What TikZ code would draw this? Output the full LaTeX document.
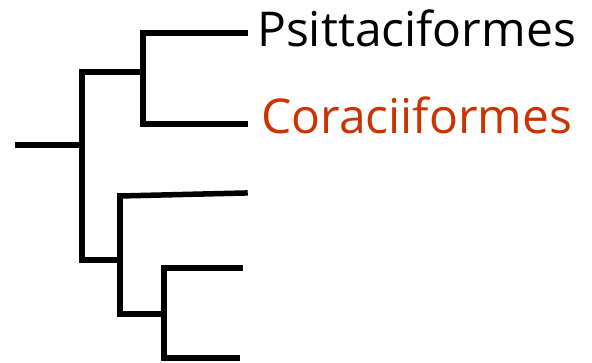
\documentclass[tikz,border=0pt]{standalone}
\usepackage{fontspec}
\setmainfont{Open Sans}
\definecolor{redlabel}{RGB}{204,51,0}
\begin{document}
\begin{tikzpicture}[x=1pt,y=-1pt,
  branch/.style={line width=5.5pt,black,line cap=rect},
  leaf/.style={anchor=base west,inner sep=0pt,font=\fontsize{48}{52}\selectfont}]
\useasboundingbox (0,0) rectangle (592,363);
% coordinates
\coordinate (r0) at (18,145);
\coordinate (r1) at (82,145);
\coordinate (a) at (82,72);
\coordinate (b) at (82,260);
\coordinate (a1) at (143,72);
\coordinate (p0) at (143,33);
\coordinate (c0) at (143,124);
\coordinate (p1) at (245,33);
\coordinate (c1) at (245,124);
\coordinate (b1) at (120,260);
\coordinate (d0) at (120,196);
\coordinate (d1) at (245,193);
\coordinate (e0) at (120,314);
\coordinate (e1) at (164,314);
\coordinate (f0) at (164,268);
\coordinate (g0) at (164,358);
\coordinate (f1) at (240,268);
\coordinate (g1) at (237,358);
% branches
\draw[branch] (r0) -- (r1);
\draw[branch] (a) -- (b);
\draw[branch] (a) -- (a1);
\draw[branch] (p0) -- (c0);
\draw[branch] (p0) -- (p1);
\draw[branch] (c0) -- (c1);
\draw[branch] (b) -- (b1);
\draw[branch] (d0) -- (e0);
\draw[branch] (d0) -- (d1);
\draw[branch] (e0) -- (e1);
\draw[branch] (f0) -- (g0);
\draw[branch] (f0) -- (f1);
\draw[branch] (g0) -- (g1);
% labels
\node[leaf] (psit) at (257,47) {Psittaciformes};
\node[leaf,text=redlabel] (cora) at (261,134) {Coraciiformes};
\end{tikzpicture}
\end{document}
